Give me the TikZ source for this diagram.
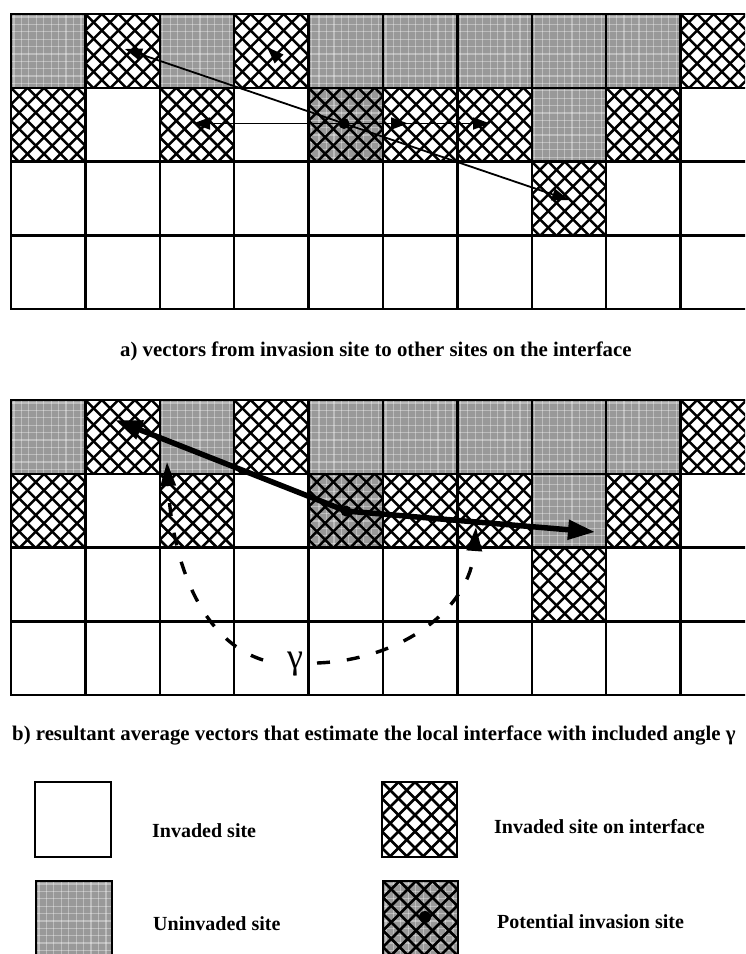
\documentclass[tikz,border=0pt]{standalone}
\usepackage{fontspec}
\setmainfont{Liberation Serif}
\usetikzlibrary{arrows.meta}

\tikzset{
  gridline/.style={line width=2.4pt, line cap=rect},
  hatchline/.style={line width=2.5pt},
  texline/.style={line width=1.2pt, white, opacity=0.35},
  uninvfill/.style={fill=black!40},
  thinvec/.style={line width=1.8pt, -{Triangle[length=17pt,width=12pt]}},
  thickvec/.style={line width=5.5pt, -{Triangle[length=27pt,width=19pt]}},
  anglearc/.style={line width=3.4pt, dash pattern=on 13pt off 17pt, -{Triangle[length=24pt,width=15pt]}},
  caption/.style={font=\bfseries\fontsize{20.8}{24}\selectfont, anchor=base west, inner sep=0pt},
  legtext/.style={font=\bfseries\fontsize{20}{24}\selectfont, anchor=base west, inner sep=0pt},
  dotmark/.style={fill=black},
}

% cell corners from column, row, panel top
\newcommand{\setcell}[3]{%
  \pgfmathsetmacro\xa{11+74.4*#1}\pgfmathsetmacro\ya{#3+73.8*#2}%
  \pgfmathsetmacro\xb{\xa+74.4}\pgfmathsetmacro\yb{\ya+73.8}}
\newcommand{\legbox}[4]{\def\xa{#1}\def\ya{#2}\def\xb{#3}\def\yb{#4}}

\newcommand{\graytex}{%
  \fill[uninvfill] (\xa,\ya) rectangle (\xb,\yb);
  \begin{scope}
    \clip (\xa,\ya) rectangle (\xb,\yb);
    \foreach \k in {0,...,10}{
      \draw[texline] (\xa+\k*7.44+3,\ya) -- ++(0,80);
      \draw[texline] (\xa,\ya+\k*7.38+3) -- ++(80,0);
    }
  \end{scope}}
\newcommand{\hatchtex}{%
  \begin{scope}
    \clip (\xa,\ya) rectangle (\xb,\yb);
    \foreach \k in {-5,...,10}{
      \draw[hatchline] (\xa+\k*16.5,\ya) -- ++(80,80);
      \draw[hatchline] (\xa+\k*16.5,\ya) -- ++(-80,80);
    }
  \end{scope}}
\newcommand{\Gc}[3]{\setcell{#1}{#2}{#3}\graytex}
\newcommand{\Hc}[3]{\setcell{#1}{#2}{#3}\hatchtex}
\newcommand{\Dc}[3]{\setcell{#1}{#2}{#3}\graytex\hatchtex}

\newcommand{\lattice}[1]{%
  \foreach \c in {0,2,4,5,6,7,8}{\Gc{\c}{0}{#1}}
  \foreach \c in {1,3,9}{\Hc{\c}{0}{#1}}
  \foreach \c in {0,2,5,6,8}{\Hc{\c}{1}{#1}}
  \Dc{4}{1}{#1}
  \Gc{7}{1}{#1}
  \Hc{7}{2}{#1}
  \foreach \r in {0,...,4}{\draw[gridline] (11,#1+73.8*\r) -- (760,#1+73.8*\r);}
  \foreach \c in {0,...,9}{\draw[gridline] (11+74.4*\c,#1) -- (11+74.4*\c,#1+295.2);}
}

\begin{document}
\begin{tikzpicture}[x=1pt,y=-1pt]
\useasboundingbox (0,0) rectangle (745,954);
\clip (0,0) rectangle (745,954);

% ---------- panel a ----------
\lattice{14}
\coordinate (pa) at (344,123.5);
\coordinate (a1) at (125,49);
\coordinate (a2) at (267,47);
\coordinate (a3) at (193,123.5);
\coordinate (a4) at (408,123.5);
\coordinate (a5) at (490,123.5);
\coordinate (a6) at (569,200);
\foreach \t in {a1,a2,a3,a5,a4,a6}{\draw[thinvec] (pa) -- (\t);}
\fill[dotmark] (pa) circle (5.5pt);
\node[caption] (capa) at (120,356) {a) vectors from invasion site to other sites on the interface};

% ---------- panel b ----------
\lattice{400}
\coordinate (pb) at (346,511);
\coordinate (b1) at (115,420);
\coordinate (b2) at (595,532);
\draw[thickvec] (pb) -- (b1);
\draw[thickvec] (pb) -- (b2);
\fill[dotmark] (pb) circle (5.5pt);
\coordinate (g1) at (263,660);
\coordinate (t1) at (167,462);
\coordinate (g2) at (317,663);
\coordinate (t2) at (476,527);
\draw[anglearc] (g1) .. controls (200,640) and (172,560) .. (t1);
\draw[anglearc] (g2) .. controls (400,660) and (470,610) .. (t2);
\node[font=\fontsize{36}{40}\selectfont, inner sep=0pt] (gam) at (295,664) {γ};
\node[caption] (capb) at (12,740) {b) resultant average vectors that estimate the local interface with included angle γ};

% ---------- legend ----------
\legbox{35}{782}{111}{857}
\draw[gridline] (\xa,\ya) rectangle (\xb,\yb);
\node[legtext] (l1) at (152,837) {Invaded site};

\legbox{382}{782}{457}{857}
\hatchtex
\draw[gridline] (\xa,\ya) rectangle (\xb,\yb);
\node[legtext] (l2) at (494,833) {Invaded site on interface};

\legbox{36}{881}{112}{957}
\graytex
\draw[gridline] (\xa,\ya) rectangle (\xb,\yb);
\node[legtext] (l3) at (153,930) {Uninvaded site};

\legbox{383}{881}{458}{957}
\graytex\hatchtex
\draw[gridline] (\xa,\ya) rectangle (\xb,\yb);
\fill[dotmark] (425,917) circle (6pt);
\node[legtext] (l4) at (497,928) {Potential invasion site};
\end{tikzpicture}
\end{document}
